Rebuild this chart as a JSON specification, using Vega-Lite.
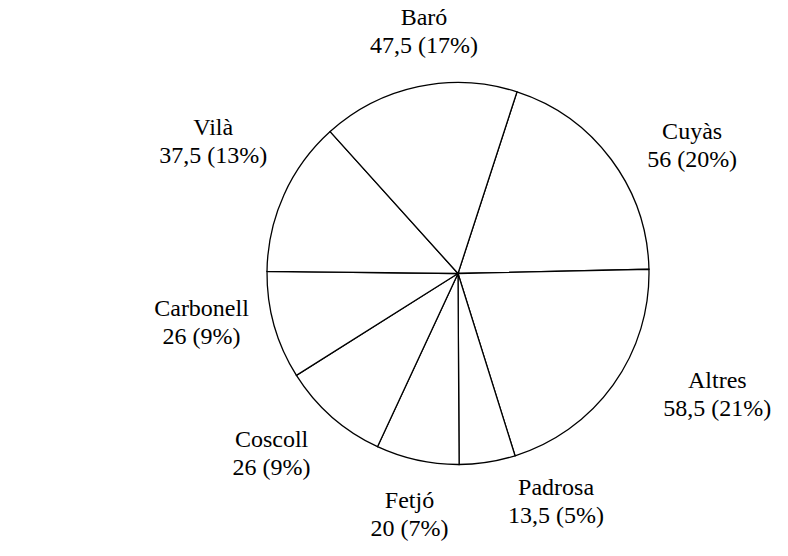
{
  "$schema": "https://vega.github.io/schema/vega-lite/v6.json",
  "autosize": {"type": "none"},
  "width": 660,
  "height": 547,
  "padding": {"left": 128, "top": 0, "right": 0, "bottom": 9},
  "background": "white",
  "config": {"view": {"stroke": null}, "font": "Times New Roman, Liberation Serif, DejaVu Serif, serif", "text": {"font": "Times New Roman, Liberation Serif, DejaVu Serif, serif"}},
  "title": {
    "text": "Total bosc: 285 mujades",
    "orient": "bottom",
    "anchor": "start",
    "frame": "group",
    "dx": -123,
    "offset": 0,
    "font": "Times New Roman, Liberation Serif, DejaVu Serif, serif",
    "fontSize": 24,
    "fontWeight": "normal",
    "color": "black"
  },
  "data": {
    "values": [
      {"idx": 1, "name": "Cuyàs", "value": 56, "label": "Cuyàs\n56 (20%)"},
      {"idx": 2, "name": "Altres", "value": 58.5, "label": "Altres\n58,5 (21%)"},
      {"idx": 3, "name": "Padrosa", "value": 13.5, "label": "Padrosa\n13,5 (5%)"},
      {"idx": 4, "name": "Fetjó", "value": 20, "label": "Fetjó\n20 (7%)"},
      {"idx": 5, "name": "Coscoll", "value": 26, "label": "Coscoll\n26 (9%)"},
      {"idx": 6, "name": "Carbonell", "value": 26, "label": "Carbonell\n26 (9%)"},
      {"idx": 7, "name": "Vilà", "value": 37.5, "label": "Vilà\n37,5 (13%)"},
      {"idx": 8, "name": "Baró", "value": 47.5, "label": "Baró\n47,5 (17%)"}
    ]
  },
  "encoding": {
    "order": {"field": "idx", "type": "quantitative"}
  },
  "resolve": {"scale": {"theta": "independent"}},
  "layer": [
    {
      "mark": {"type": "arc", "outerRadius": 191, "fill": "white", "stroke": "black", "strokeWidth": 1.3},
      "encoding": {
        "theta": {"field": "value", "type": "quantitative", "stack": true, "scale": {"range": [0.314, 6.597]}}
      }
    },
    {
      "encoding": {
        "theta": {"field": "value", "type": "quantitative", "stack": true, "scale": {"range": [0.384, 6.667]}}
      },
      "layer": [
        {
          "mark": {"type": "text", "radius": 244, "dy": -14, "font": "Times New Roman, Liberation Serif, DejaVu Serif, serif", "fontSize": 24, "lineBreak": "\n", "lineHeight": 28, "baseline": "middle", "align": "center", "color": "black"},
          "encoding": {
            "text": {"condition": {"test": "datum.name === 'Baró'", "field": "label"}, "value": ""}
          }
        },
        {
          "mark": {"type": "text", "radius": 244, "dx": 20, "dy": -7, "font": "Times New Roman, Liberation Serif, DejaVu Serif, serif", "fontSize": 24, "lineBreak": "\n", "lineHeight": 28, "baseline": "middle", "align": "center", "color": "black"},
          "encoding": {
            "text": {"condition": {"test": "datum.name === 'Fetjó'", "field": "label"}, "value": ""}
          }
        },
        {
          "mark": {"type": "text", "radius": 262, "dy": -18, "font": "Times New Roman, Liberation Serif, DejaVu Serif, serif", "fontSize": 24, "lineBreak": "\n", "lineHeight": 28, "baseline": "middle", "align": "center", "color": "black"},
          "encoding": {
            "text": {"condition": {"test": "datum.name === 'Coscoll' || datum.name === 'Carbonell'", "field": "label"}, "value": ""}
          }
        },
        {
          "mark": {"type": "text", "radius": 278, "dy": -14, "font": "Times New Roman, Liberation Serif, DejaVu Serif, serif", "fontSize": 24, "lineBreak": "\n", "lineHeight": 28, "baseline": "middle", "align": "center", "color": "black"},
          "encoding": {
            "text": {"condition": {"test": "datum.name === 'Vilà'", "field": "label"}, "value": ""}
          }
        },
        {
          "mark": {"type": "text", "radius": 278, "dy": 8, "font": "Times New Roman, Liberation Serif, DejaVu Serif, serif", "fontSize": 24, "lineBreak": "\n", "lineHeight": 28, "baseline": "middle", "align": "center", "color": "black"},
          "encoding": {
            "text": {"condition": {"test": "datum.name === 'Cuyàs'", "field": "label"}, "value": ""}
          }
        },
        {
          "mark": {"type": "text", "radius": 285, "dx": 40, "dy": -74, "font": "Times New Roman, Liberation Serif, DejaVu Serif, serif", "fontSize": 24, "lineBreak": "\n", "lineHeight": 28, "baseline": "middle", "align": "center", "color": "black"},
          "encoding": {
            "text": {"condition": {"test": "datum.name === 'Altres'", "field": "label"}, "value": ""}
          }
        },
        {
          "mark": {"type": "text", "radius": 249, "dx": 77, "dy": -34, "font": "Times New Roman, Liberation Serif, DejaVu Serif, serif", "fontSize": 24, "lineBreak": "\n", "lineHeight": 28, "baseline": "middle", "align": "center", "color": "black"},
          "encoding": {
            "text": {"condition": {"test": "datum.name === 'Padrosa'", "field": "label"}, "value": ""}
          }
        }
      ]
    }
  ]
}
